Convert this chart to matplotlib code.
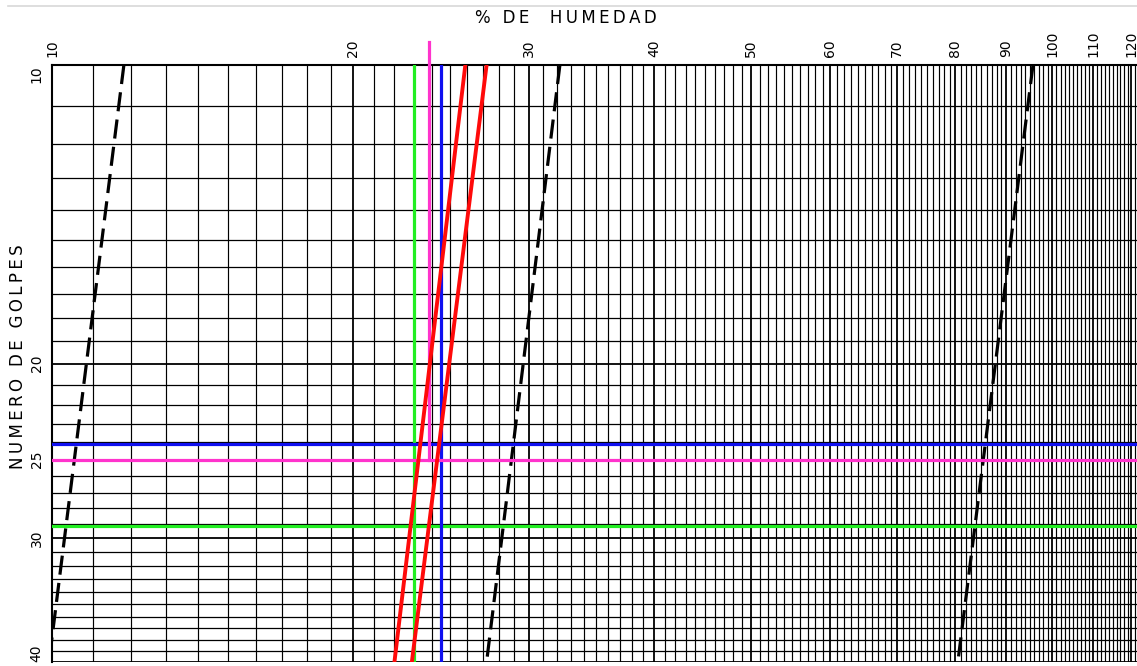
import numpy as np
import matplotlib
matplotlib.use("Agg")
import matplotlib.pyplot as plt
from matplotlib.lines import Line2D

# escalas del abaco (semi-log, limite liquido)
hum_ticks = [10, 20, 30, 40, 50, 60, 70, 80, 90, 100, 110, 120]
golpes_ticks = [10, 20, 25, 30, 40]
golpes_ext = [10, 40]

# lineas de flujo de referencia (humedad a 10 y a 40 golpes)
ref_hum_10 = [11.8, 32.2, 95.7]
ref_hum_40 = [9.93, 27.2, 80.5]

# curvas de flujo ensayadas (rojo)
curva_hum_10 = [25.9, 27.2]
curva_hum_40 = [22.0, 22.9]

# lineas guia
verde_hum, verde_golpes = 23.0, 29.2
azul_hum, azul_golpes = 24.5, 24.1
rosa_hum, rosa_golpes = 23.8, 25.0

W, H = 1137, 666
fig = plt.figure(figsize=(W / 100, H / 100), dpi=100)
ax = fig.add_axes([52 / W, 4 / H, (W - 52) / W, 597 / H])
ax.set_xscale("log")
ax.set_yscale("log")
x_max = 121.6
ax.set_xlim(10, x_max)
ax.set_ylim(40, 10)

# cuadricula impresa: cada entero
for v in range(10, 122):
    lw = 1.3 if v % 10 == 0 else 0.85
    ax.axvline(v, color="black", lw=lw, zorder=1)
for v in range(10, 41):
    lw = 1.3 if v in (10, 20, 30, 40) else 0.9
    ax.axhline(v, color="black", lw=lw, zorder=1)

# lineas de referencia a trazos
for h10, h40 in zip(ref_hum_10, ref_hum_40):
    ax.plot([h10, h40], golpes_ext, color="black", lw=2.3,
            dashes=(6, 2.6), zorder=3)

# guias de color
ax.plot([verde_hum, verde_hum], golpes_ext, color="#22ee22", lw=2.3, zorder=4)
ax.plot([10, x_max], [verde_golpes, verde_golpes], color="#22ee22", lw=2.3, zorder=4)
ax.plot([azul_hum, azul_hum], golpes_ext, color="#1010f0", lw=2.3, zorder=4)
ax.plot([10, x_max], [azul_golpes, azul_golpes], color="#1010f0", lw=2.3, zorder=4)
ax.plot([rosa_hum, rosa_hum], [9.48, rosa_golpes], color="#ff33cc", lw=2.3,
        zorder=4, clip_on=False)
ax.plot([10, x_max], [rosa_golpes, rosa_golpes], color="#ff33cc", lw=2.3, zorder=4)

# curvas de flujo
for h10, h40 in zip(curva_hum_10, curva_hum_40):
    ax.plot([h10, h40], golpes_ext, color="#ff0a0a", lw=2.8, zorder=5,
            solid_capstyle="round")

# ejes
ax.minorticks_off()
ax.xaxis.tick_top()
ax.set_xticks(hum_ticks)
ax.set_xticklabels([str(v) for v in hum_ticks], rotation=90, fontsize=10)
ax.set_yticks(golpes_ticks)
ylabels = ax.set_yticklabels([str(v) for v in golpes_ticks], rotation=90,
                             fontsize=10, va="center")
ylabels[0].set_va("top")
ylabels[-1].set_va("bottom")
ax.tick_params(axis="both", length=0, pad=6)
for side in ("right", "bottom"):
    ax.spines[side].set_visible(False)
for side in ("top", "left"):
    ax.spines[side].set_linewidth(1.5)

sp = "\u2009"
fig.text(566 / W, 1 - 18 / H, sp.join("% DE  HUMEDAD"), ha="center",
         va="center", fontsize=12)
fig.text(18 / W, 1 - 357 / H, sp.join("NUMERO DE GOLPES"), ha="center",
         va="center", rotation=90, fontsize=12)

fig.add_artist(Line2D([8 / W, 1], [1 - 6 / H, 1 - 6 / H],
                      transform=fig.transFigure, color="#d8d8d8", lw=1.2))

fig.savefig("out.png", dpi=100, facecolor="white")
